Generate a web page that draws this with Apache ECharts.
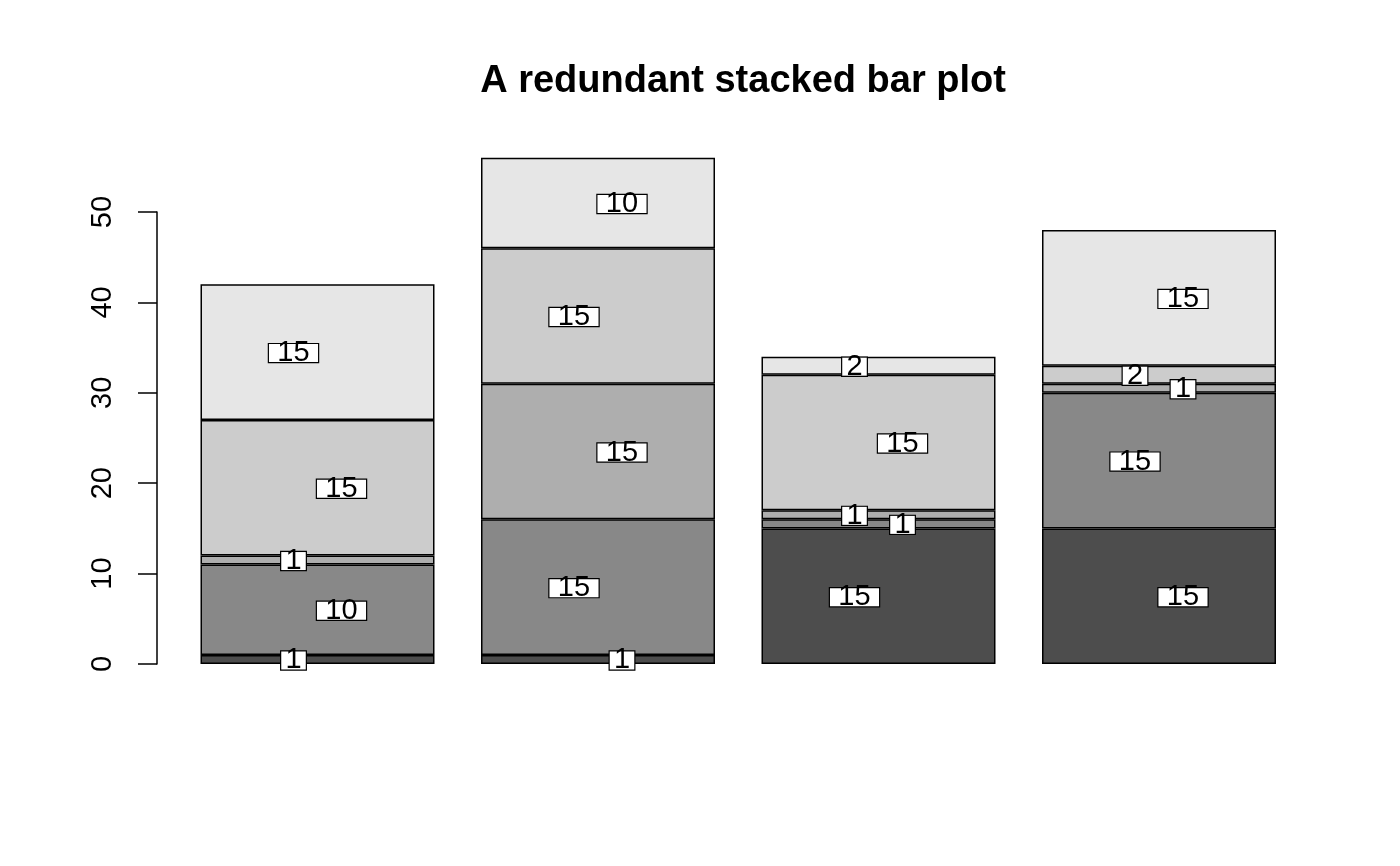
<!DOCTYPE html>
<html>
<head>
<meta charset="utf-8">
<title>A redundant stacked bar plot</title>
<script src="https://cdn.jsdelivr.net/npm/echarts@6/dist/echarts.min.js"></script>
<style>
  html, body { margin: 0; padding: 0; background: #fff; }
  #chart { width: 1400px; height: 866px; }
</style>
</head>
<body>
<div id="chart"></div>
<script>
// 四根柱子, 每根由五段堆叠而成 (从下往上)
const categories = ['1', '2', '3', '4']
const seg1 = [1, 1, 15, 15]
const seg2 = [10, 15, 1, 15]
const seg3 = [1, 15, 1, 1]
const seg4 = [15, 15, 15, 2]
const seg5 = [15, 10, 2, 15]
const yTicks = [0, 10, 20, 30, 40, 50]

const segments = [seg1, seg2, seg3, seg4, seg5]
const grays = ['#4D4D4D', '#888888', '#AEAEAE', '#CCCCCC', '#E6E6E6']

const chart = echarts.init(document.getElementById('chart'))

// 每段的数据项, 标签左右交错摆放
function buildData(values, segIndex) {
  return values.map((v, barIndex) => {
    const flat = barIndex * segments.length + segIndex
    return {
      value: v,
      label: {
        offset: [flat % 2 === 0 ? -24 : 24, 1],
        padding: [0, 4.2 * String(v).length]
      }
    }
  })
}

const series = segments.map((values, i) => {
  return {
    type: 'bar',
    stack: 'total',
    barWidth: 234,
    clip: false,
    data: buildData(values, i),
    itemStyle: {
      color: grays[i],
      borderColor: '#000',
      borderWidth: 1.5
    },
    label: {
      show: true,
      position: 'inside',
      color: '#000',
      fontFamily: 'Liberation Sans',
      fontSize: 29,
      lineHeight: 18,
      backgroundColor: '#fff',
      borderColor: '#000',
      borderWidth: 1.2
    },
    emphasis: { disabled: true }
  }
})

const option = {
  backgroundColor: '#fff',
  animation: false,
  title: {
    text: 'A redundant stacked bar plot',
    left: 738,
    top: 58,
    textAlign: 'center',
    textStyle: {
      fontFamily: 'Liberation Sans',
      fontWeight: 'bold',
      fontSize: 38,
      color: '#000'
    }
  },
  grid: {
    left: 177.25,
    right: 100.75,
    top: 212,
    bottom: 202
  },
  xAxis: {
    type: 'category',
    data: categories,
    axisLine: { show: false },
    axisTick: { show: false },
    axisLabel: { show: false }
  },
  yAxis: {
    type: 'value',
    min: yTicks[0],
    max: yTicks[yTicks.length - 1],
    interval: yTicks[1] - yTicks[0],
    offset: 20.25,
    splitLine: { show: false },
    axisLine: { show: true, lineStyle: { color: '#000', width: 1.5 } },
    axisTick: { show: true, length: 19, lineStyle: { color: '#000', width: 1.5 } },
    axisLabel: {
      rotate: 90,
      margin: 40,
      color: '#000',
      fontFamily: 'Liberation Sans',
      fontSize: 29
    }
  },
  series: series
}

chart.setOption(option)
</script>
</body>
</html>
